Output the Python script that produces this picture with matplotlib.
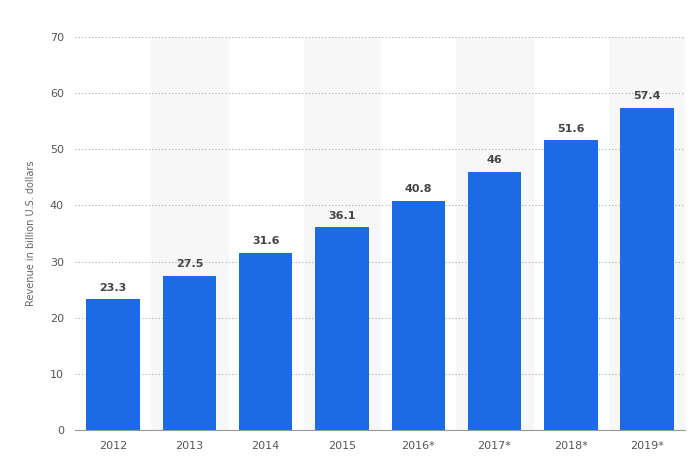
import matplotlib
matplotlib.use("Agg")
import matplotlib.pyplot as plt

years = ["2012", "2013", "2014", "2015", "2016*", "2017*", "2018*", "2019*"]
revenue = [23.3, 27.5, 31.6, 36.1, 40.8, 46, 51.6, 57.4]
yticks = [0, 10, 20, 30, 40, 50, 60, 70]

fig = plt.figure(figsize=(7, 4.62), dpi=100)
ax = fig.add_axes([0.107, 0.069, 0.872, 0.851])
x = list(range(len(years)))
for i in x:
    if i % 2 == 1:
        ax.axvspan(i - 0.5, i + 0.5, color="#f7f7f7", zorder=0)
ax.bar(x, revenue, width=0.7, color="#1d6ae5", zorder=3)
for xi, v in zip(x, revenue):
    ax.text(xi, v + 1.2, f"{v:g}", ha="center", va="bottom", fontsize=8,
            fontweight="bold", color="#444444", zorder=4)
ax.set_xlim(-0.5, len(years) - 0.5)
ax.set_ylim(0, 70)
ax.set_yticks(yticks)
ax.set_xticks(x)
ax.set_xticklabels(years)
ax.yaxis.grid(True, linestyle=(0, (1, 2)), color="#aaaaaa", linewidth=0.8, zorder=1)
for s in ["top", "right", "left"]:
    ax.spines[s].set_visible(False)
ax.spines["bottom"].set_color("#999999")
ax.tick_params(axis="both", length=0, labelsize=8, colors="#555555", pad=8)
ax.set_ylabel("Revenue in billion U.S. dollars", fontsize=7, color="#666666", labelpad=10)
fig.savefig("out.png")
